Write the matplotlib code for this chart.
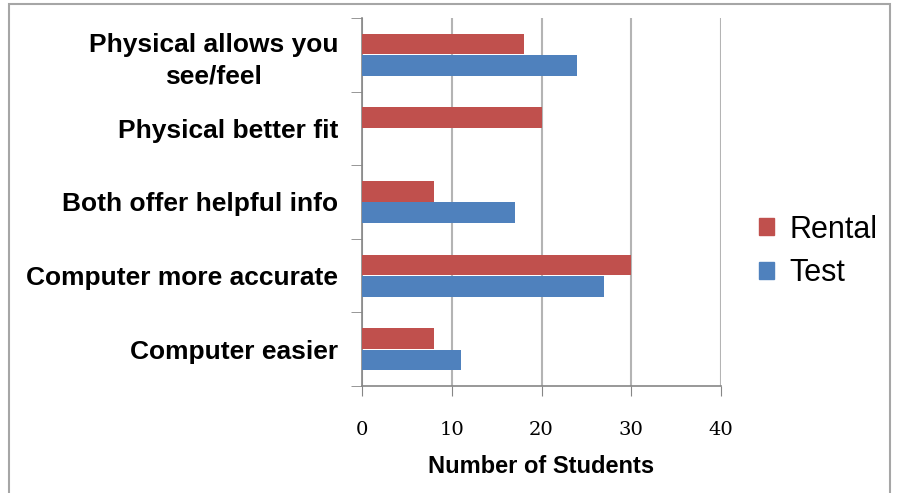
import numpy
import matplotlib.pyplot as plt
from matplotlib.patches import Rectangle, Patch

categories = ["Physical allows you\nsee/feel", "Physical better fit",
              "Both offer helpful info", "Computer more accurate",
              "Computer easier"]
rental = [18, 20, 8, 30, 8]
test = [24, 0, 17, 27, 11]
xticks = [0, 10, 20, 30, 40]

red = "#C0504D"
blue = "#4F81BD"

fig = plt.figure(figsize=(9.03, 4.93), dpi=100)
ax = fig.add_axes([362 / 903, 1 - 386 / 493, 359 / 903, 368 / 493])

y = numpy.arange(len(categories))
h = 0.28
ax.barh(y - 0.145, rental, height=h, color=red, label="Rental", zorder=3)
ax.barh(y + 0.145, test, height=h, color=blue, label="Test", zorder=3)

ax.set_ylim(len(categories) - 0.5, -0.5)
ax.set_xlim(0, 40)
ax.set_xticks(xticks)
ax.set_xticklabels([str(v) for v in xticks], family="DejaVu Serif", fontsize=14)
ax.tick_params(axis="x", length=7, color="#868686", pad=18)

ax.set_yticks(y)
ax.set_yticklabels(categories, family="Liberation Sans", fontweight="bold",
                   fontsize=19, multialignment="center", linespacing=1.4)
ax.set_yticks(numpy.arange(len(categories) + 1) - 0.5, minor=True)
ax.tick_params(axis="y", which="major", length=0, pad=17)
ax.tick_params(axis="y", which="minor", length=8, color="#868686")

ax.grid(axis="x", color="#B4B4B4", linewidth=1.5, zorder=0)
for s in ["top", "right"]:
    ax.spines[s].set_visible(False)
for s in ["left", "bottom"]:
    ax.spines[s].set_color("#868686")
    ax.spines[s].set_linewidth(1.2)

ax.set_xlabel("Number of Students", family="Liberation Sans", fontweight="bold",
              fontsize=17, labelpad=12)

handles = [Patch(color=red, label="Rental"), Patch(color=blue, label="Test")]
fig.legend(handles=handles, loc="center left", bbox_to_anchor=(0.81, 0.49),
           frameon=False, prop={"family": "Liberation Sans", "size": 22},
           handlelength=0.5, handleheight=0.5, handletextpad=0.5,
           labelspacing=0.45)

# outer chart border
fig.patches.append(Rectangle((9 / 903, -0.01), 881 / 903, 1 - 4 / 493 + 0.01,
                             transform=fig.transFigure, fill=False,
                             edgecolor="#A6A6A6", linewidth=1.5))

fig.savefig("out.png", dpi=100)
